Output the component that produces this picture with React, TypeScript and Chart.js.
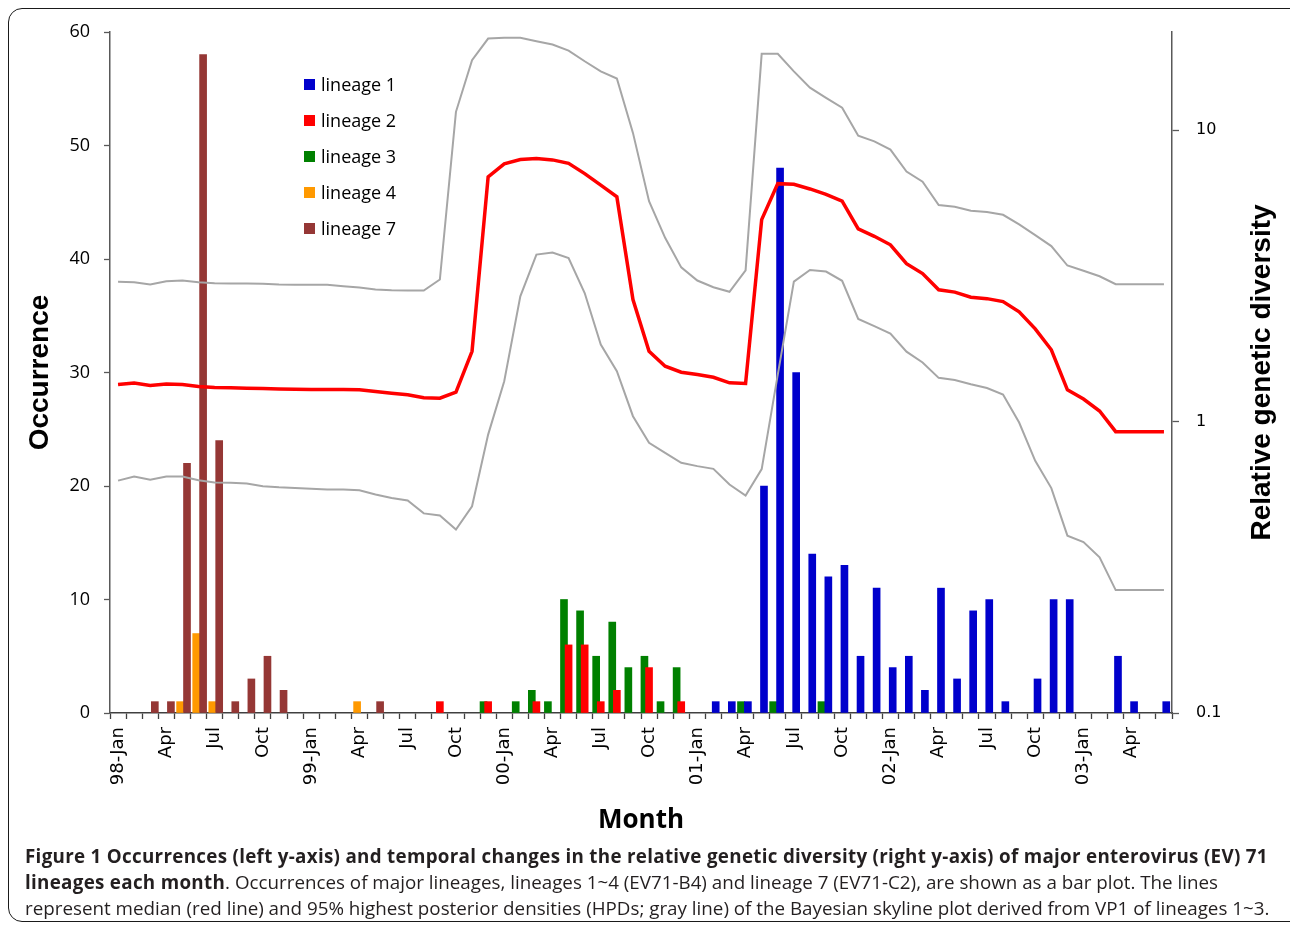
import React, { useEffect, useRef } from 'react';
import { Chart, registerables } from 'chart.js';

Chart.register(...registerables);

// 66 monthly categories, Jan 1998 – Jun 2003
const categories = [
  '98-Jan', '98-Feb', '98-Mar', '98-Apr', '98-May', '98-Jun', '98-Jul', '98-Aug', '98-Sep', '98-Oct', '98-Nov', '98-Dec',
  '99-Jan', '99-Feb', '99-Mar', '99-Apr', '99-May', '99-Jun', '99-Jul', '99-Aug', '99-Sep', '99-Oct', '99-Nov', '99-Dec',
  '00-Jan', '00-Feb', '00-Mar', '00-Apr', '00-May', '00-Jun', '00-Jul', '00-Aug', '00-Sep', '00-Oct', '00-Nov', '00-Dec',
  '01-Jan', '01-Feb', '01-Mar', '01-Apr', '01-May', '01-Jun', '01-Jul', '01-Aug', '01-Sep', '01-Oct', '01-Nov', '01-Dec',
  '02-Jan', '02-Feb', '02-Mar', '02-Apr', '02-May', '02-Jun', '02-Jul', '02-Aug', '02-Sep', '02-Oct', '02-Nov', '02-Dec',
  '03-Jan', '03-Feb', '03-Mar', '03-Apr', '03-May', '03-Jun',
];

// tick labels shown on the x axis (every third month)
const tickLabels = [
  '98-Jan', '', '', 'Apr', '', '', 'Jul', '', '', 'Oct', '', '',
  '99-Jan', '', '', 'Apr', '', '', 'Jul', '', '', 'Oct', '', '',
  '00-Jan', '', '', 'Apr', '', '', 'Jul', '', '', 'Oct', '', '',
  '01-Jan', '', '', 'Apr', '', '', 'Jul', '', '', 'Oct', '', '',
  '02-Jan', '', '', 'Apr', '', '', 'Jul', '', '', 'Oct', '', '',
  '03-Jan', '', '', 'Apr', '', '',
];

// Occurrences (left axis)
const lineage1 = [
  0, 0, 0, 0, 0, 0, 0, 0, 0, 0, 0, 0,
  0, 0, 0, 0, 0, 0, 0, 0, 0, 0, 0, 0,
  0, 0, 0, 0, 0, 0, 0, 0, 0, 0, 0, 0,
  0, 1, 1, 1, 20, 48, 30, 14, 12, 13, 5, 11,
  4, 5, 2, 11, 3, 9, 10, 1, 0, 3, 10, 10,
  0, 0, 5, 1, 0, 1,
];
const lineage2 = [
  0, 0, 0, 0, 0, 0, 0, 0, 0, 0, 0, 0,
  0, 0, 0, 0, 0, 0, 0, 0, 1, 0, 0, 1,
  0, 0, 1, 0, 6, 6, 1, 2, 0, 4, 0, 1,
  0, 0, 0, 0, 0, 0, 0, 0, 0, 0, 0, 0,
  0, 0, 0, 0, 0, 0, 0, 0, 0, 0, 0, 0,
  0, 0, 0, 0, 0, 0,
];
const lineage3 = [
  0, 0, 0, 0, 0, 0, 0, 0, 0, 0, 0, 0,
  0, 0, 0, 0, 0, 0, 0, 0, 0, 0, 0, 1,
  0, 1, 2, 1, 10, 9, 5, 8, 4, 5, 1, 4,
  0, 0, 0, 1, 0, 1, 0, 0, 1, 0, 0, 0,
  0, 0, 0, 0, 0, 0, 0, 0, 0, 0, 0, 0,
  0, 0, 0, 0, 0, 0,
];
const lineage4 = [
  0, 0, 0, 0, 1, 7, 1, 0, 0, 0, 0, 0,
  0, 0, 0, 1, 0, 0, 0, 0, 0, 0, 0, 0,
  0, 0, 0, 0, 0, 0, 0, 0, 0, 0, 0, 0,
  0, 0, 0, 0, 0, 0, 0, 0, 0, 0, 0, 0,
  0, 0, 0, 0, 0, 0, 0, 0, 0, 0, 0, 0,
  0, 0, 0, 0, 0, 0,
];
const lineage7 = [
  0, 0, 1, 1, 22, 58, 24, 1, 3, 5, 2, 0,
  0, 0, 0, 0, 1, 0, 0, 0, 0, 0, 0, 0,
  0, 0, 0, 0, 0, 0, 0, 0, 0, 0, 0, 0,
  0, 0, 0, 0, 0, 0, 0, 0, 0, 0, 0, 0,
  0, 0, 0, 0, 0, 0, 0, 0, 0, 0, 0, 0,
  0, 0, 0, 0, 0, 0,
];

// Relative genetic diversity (right, log axis)
const median = [
  1.339, 1.355, 1.329, 1.345, 1.339, 1.318, 1.308, 1.305, 1.301, 1.298, 1.293, 1.291,
  1.288, 1.288, 1.288, 1.285, 1.267, 1.25, 1.235, 1.206, 1.202, 1.262, 1.742, 6.91,
  7.66, 7.92, 7.99, 7.9, 7.69, 7.09, 6.47, 5.9, 2.62, 1.742, 1.548, 1.476,
  1.449, 1.419, 1.358, 1.35, 4.93, 6.55, 6.52, 6.28, 6.02, 5.7, 4.58, 4.32,
  4.04, 3.48, 3.22, 2.83, 2.78, 2.67, 2.64, 2.58, 2.38, 2.08, 1.763, 1.285,
  1.195, 1.087, 0.923, 0.923, 0.923, 0.923,
];
const hpdUpper = [
  3.015, 3.006, 2.951, 3.029, 3.046, 3.006, 2.982, 2.975, 2.975, 2.968, 2.951, 2.944,
  2.944, 2.944, 2.911, 2.882, 2.836, 2.821, 2.814, 2.814, 3.07, 11.55, 17.36, 20.6,
  20.72, 20.72, 20.17, 19.65, 18.74, 17.22, 15.91, 15.02, 9.78, 5.7, 4.27, 3.38,
  3.046, 2.888, 2.786, 3.3, 18.26, 18.26, 15.9, 13.98, 12.9, 11.93, 9.56, 9.15,
  8.57, 7.21, 6.65, 5.53, 5.46, 5.29, 5.23, 5.12, 4.75, 4.36, 4.0, 3.43,
  3.29, 3.15, 2.96, 2.96, 2.96, 2.96,
];
const hpdLower = [
  0.627, 0.648, 0.631, 0.648, 0.648, 0.629, 0.618, 0.616, 0.613, 0.6, 0.595, 0.592,
  0.588, 0.584, 0.584, 0.581, 0.562, 0.547, 0.536, 0.484, 0.476, 0.426, 0.512, 0.902,
  1.375, 2.69, 3.74, 3.8, 3.64, 2.76, 1.837, 1.488, 1.043, 0.845, 0.781, 0.722,
  0.703, 0.688, 0.608, 0.557, 0.687, 1.449, 3.02, 3.31, 3.27, 3.04, 2.25, 2.125,
  2.005, 1.737, 1.594, 1.412, 1.388, 1.342, 1.303, 1.238, 0.992, 0.733, 0.591, 0.406,
  0.386, 0.342, 0.264, 0.264, 0.264, 0.264,
];

const leftTicks = [0, 10, 20, 30, 40, 50, 60];
const rightTicks = [0.1, 1, 10];

const legendItems = [
  { label: 'lineage 1', color: '#0000CC' },
  { label: 'lineage 2', color: '#FF0000' },
  { label: 'lineage 3', color: '#008000' },
  { label: 'lineage 4', color: '#FF9900' },
  { label: 'lineage 7', color: '#953735' },
];

// position of each series inside a month (fraction of a month)
const barShift = { l3: -0.286, l4: -0.143, l2: 0, l1: 0.143, l7: 0.286 };

// zero counts are simply not drawn
const toPoints = (arr: number[], shift: number) =>
  arr.map((v, i) => ({ x: i + shift, y: v === 0 ? null : v }));

export default function App() {
  const canvasRef = useRef<HTMLCanvasElement | null>(null);

  useEffect(() => {
    const canvas = canvasRef.current;
    if (!canvas) return;

    const rightTitle = {
      id: 'rightTitle',
      afterDraw(chart: any) {
        const { ctx, chartArea, scales } = chart;
        ctx.save();
        ctx.translate(scales.y1.right - 28, (chartArea.top + chartArea.bottom) / 2);
        ctx.rotate(-Math.PI / 2);
        ctx.font = 'bold 28px "Liberation Sans", Arial, sans-serif';
        ctx.fillStyle = '#000';
        ctx.textAlign = 'center';
        ctx.textBaseline = 'middle';
        ctx.fillText('Relative genetic diversity', 0, 0);
        ctx.restore();
      },
    };

    const barDs = (data: number[], shift: number, color: string, label: string) => ({
      type: 'bar' as const,
      label,
      data: toPoints(data, shift),
      backgroundColor: color,
      borderWidth: 0,
      barThickness: 7,
      grouped: false,
      xAxisID: 'xb',
      yAxisID: 'y',
    });

    const lineDs = (data: number[], color: string, width: number, label: string) => ({
      type: 'line' as const,
      label,
      data,
      borderColor: color,
      borderWidth: width,
      pointRadius: 0,
      tension: 0,
      fill: false,
      xAxisID: 'x',
      yAxisID: 'y1',
    });

    const chart = new Chart(canvas, {
      type: 'bar',
      data: {
        labels: categories,
        datasets: [
          lineDs(median, '#FF0000', 3.5, 'median'),
          lineDs(hpdUpper, '#A6A6A6', 2, 'HPD upper'),
          lineDs(hpdLower, '#A6A6A6', 2, 'HPD lower'),
          barDs(lineage7, barShift.l7, '#953735', 'lineage 7'),
          barDs(lineage1, barShift.l1, '#0000CC', 'lineage 1'),
          barDs(lineage2, barShift.l2, '#FF0000', 'lineage 2'),
          barDs(lineage4, barShift.l4, '#FF9900', 'lineage 4'),
          barDs(lineage3, barShift.l3, '#008000', 'lineage 3'),
        ] as any,
      },
      options: {
        responsive: false,
        animation: false,
        layout: { padding: { top: 32, left: 0, right: 0, bottom: 0 } },
        plugins: {
          legend: { display: false },
          tooltip: { enabled: false },
        },
        scales: {
          x: {
            type: 'category',
            position: 'bottom',
            offset: true,
            grid: {
              offset: true,
              drawOnChartArea: false,
              drawTicks: true,
              tickLength: 6,
              tickColor: '#404040',
              tickWidth: 1.3,
            },
            border: { display: true, color: '#404040', width: 1.5 },
            ticks: {
              autoSkip: false,
              maxRotation: 90,
              minRotation: 90,
              padding: 8,
              color: '#000',
              font: { family: '"DejaVu Sans", Verdana, sans-serif', size: 18 },
              callback: (_v: any, i: number) => tickLabels[i],
            },
            title: {
              display: true,
              text: 'Month',
              color: '#000',
              font: { family: '"Open Sans", sans-serif', size: 26, weight: 'bold' },
              padding: { top: 0, bottom: 9 },
            },
            afterFit: (s: any) => {
              s.height = 132;
            },
          },
          xb: {
            type: 'linear',
            display: false,
            offset: false,
            min: -0.5,
            max: 65.5,
            grid: { offset: false },
          },
          y: {
            type: 'linear',
            position: 'left',
            min: 0,
            max: 60,
            grid: {
              drawOnChartArea: false,
              drawTicks: true,
              tickLength: 6,
              tickColor: '#595959',
              tickWidth: 1.3,
            },
            border: { display: true, color: '#595959', width: 1.5 },
            afterBuildTicks: (s: any) => {
              s.ticks = leftTicks.map((v) => ({ value: v }));
            },
            ticks: {
              padding: 14,
              color: '#000',
              font: { family: '"Open Sans", sans-serif', size: 18 },
            },
            title: {
              display: true,
              text: 'Occurrence',
              color: '#000',
              font: { family: '"Liberation Sans", Arial, sans-serif', size: 28, weight: 'bold' },
              padding: { top: 23, bottom: 0 },
            },
            afterFit: (s: any) => {
              s.width = 110;
            },
          },
          y1: {
            type: 'logarithmic',
            position: 'right',
            min: 0.1,
            max: 21.7,
            grid: {
              drawOnChartArea: false,
              drawTicks: true,
              tickLength: 7,
              tickColor: '#595959',
              tickWidth: 1.3,
            },
            border: { display: true, color: '#595959', width: 1.5 },
            afterBuildTicks: (s: any) => {
              s.ticks = rightTicks.map((v) => ({ value: v, major: true }));
            },
            ticks: {
              padding: 17,
              color: '#000',
              font: { family: '"DejaVu Sans", Verdana, sans-serif', size: 16 },
              callback: (v: any) => String(v),
            },
            afterFit: (s: any) => {
              s.width = 118;
            },
          },
        },
      } as any,
      plugins: [rightTitle],
    });

    return () => {
      chart.destroy();
    };
  }, []);

  return (
    <div
      style={{
        position: 'absolute',
        left: 0,
        top: 0,
        width: 1290,
        height: 926,
        overflow: 'hidden',
        background: '#fff',
        fontFamily: '"Open Sans", sans-serif',
      }}
    >
      <div
        style={{
          position: 'absolute',
          left: 8,
          top: 8,
          width: 1310,
          height: 914,
          border: '1.5px solid #1a1a1a',
          borderRadius: 14,
          boxSizing: 'border-box',
        }}
      />
      <canvas
        ref={canvasRef}
        width={1290}
        height={845}
        style={{ position: 'absolute', left: 0, top: 0, width: 1290, height: 845 }}
      />
      <div style={{ position: 'absolute', left: 304, top: 66 }}>
        {legendItems.map((it) => (
          <div key={it.label} style={{ display: 'flex', alignItems: 'center', height: 36 }}>
            <span
              style={{
                display: 'inline-block',
                width: 11,
                height: 11,
                background: it.color,
                marginRight: 6,
              }}
            />
            <span style={{ fontSize: 18, color: '#000', lineHeight: '20px' }}>{it.label}</span>
          </div>
        ))}
      </div>
      <div
        style={{
          position: 'absolute',
          left: 25,
          top: 843,
          fontSize: 18.8,
          lineHeight: '26px',
          color: '#231f20',
          whiteSpace: 'nowrap',
        }}
      >
        <div style={{ fontWeight: 'bold', letterSpacing: 0.3 }}>
          Figure 1 Occurrences (left y-axis) and temporal changes in the relative genetic diversity (right y-axis) of major enterovirus (EV) 71
        </div>
        <div>
          <b style={{ letterSpacing: 0.3 }}>lineages each month</b>. Occurrences of major lineages, lineages 1~4 (EV71-B4) and lineage 7 (EV71-C2), are shown as a bar plot. The lines
        </div>
        <div>
          represent median (red line) and 95% highest posterior densities (HPDs; gray line) of the Bayesian skyline plot derived from VP1 of lineages 1~3.
        </div>
      </div>
    </div>
  );
}
